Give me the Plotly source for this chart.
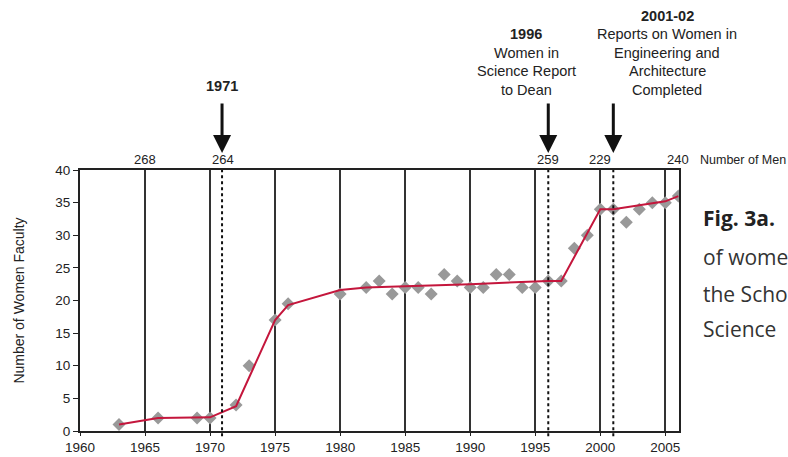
import plotly.graph_objects as go

# ---- data ----
years = [1963, 1966, 1969, 1970, 1972, 1973, 1975, 1976, 1980, 1982, 1983, 1984,
         1985, 1986, 1987, 1988, 1989, 1990, 1991, 1992, 1993, 1994, 1995, 1996,
         1997, 1998, 1999, 2000, 2001, 2002, 2003, 2004, 2005, 2006]
women = [1, 2, 2, 2, 4, 10, 17, 19.5, 21, 22, 23, 21,
         22, 22, 21, 24, 23, 22, 22, 24, 24, 22, 22, 23,
         23, 28, 30, 34, 34, 32, 34, 35, 35, 36]

trend_years = [1963, 1966, 1970, 1972, 1975, 1976, 1980, 1982, 1985, 1990, 1996, 1997, 2000, 2001, 2005, 2006]
trend_vals = [1.0, 2.0, 2.1, 3.8, 17, 19.3, 21.6, 22, 22.2, 22.5, 23, 23, 34, 34, 35.2, 36]

event_years = [1970.92, 1996, 2001]
event_label_years = [1970.92, 1994.3, 2005.15]
event_texts = [
    ["<b>1971</b>"],
    ["<b>1996</b>", "Women in", "Science Report", "to Dean"],
    ["<b>2001-02</b>", "Reports on Women in", "Engineering and", "Architecture", "Completed"],
]

men_years = [1965, 1971, 1996, 2000, 2006]
men_counts = [268, 264, 259, 229, 240]

x_ticks = list(range(1960, 2006, 5))
y_ticks = list(range(0, 41, 5))

side_lines = ["of wome", "the Scho", "Science"]

# ---- figure ----
W, H = 788, 457
PL, PR, PT, PB = 80, 679, 170, 431          # plot area in page pixels
L, R, T, B = PL, W - PR, PT, H - PB
plot_h = PB - PT
plot_w = PR - PL

def py(px_from_top):
    return 1 + (PT - px_from_top) / plot_h

def pxp(px_from_left):
    return (px_from_left - PL) / plot_w

FONT = "Liberation Sans, Arial, sans-serif"

fig = go.Figure()

fig.add_trace(go.Scatter(
    x=years, y=women, mode="markers",
    marker=dict(symbol="diamond", size=10, color="#999999"),
    showlegend=False, hoverinfo="x+y"))

fig.add_trace(go.Scatter(
    x=trend_years, y=trend_vals, mode="lines",
    line=dict(color="#c4163c", width=2),
    showlegend=False))

shapes = []
for ey in event_years:
    shapes.append(dict(type="line", xref="x", yref="paper", x0=ey, x1=ey, y0=-0.02, y1=1,
                       line=dict(color="#111", width=2, dash="dot"), layer="above"))

annotations = []
# arrows
for ey in event_years:
    annotations.append(dict(x=ey, y=py(153), xref="x", yref="paper", text="",
                            showarrow=True, ax=0, ay=-51, arrowhead=2, arrowsize=1.2,
                            arrowwidth=3, arrowcolor="#111", standoff=0))
# event texts (bottom-up)
for k, (ex, lines) in enumerate(zip(event_label_years, event_texts)):
    n = len(lines)
    bottom = 86 if n == 1 else 90
    for i, t in enumerate(lines):
        ypx = bottom - (n - 1 - i) * 18.5
        annotations.append(dict(x=ex, y=py(ypx), xref="x", yref="paper", text=t,
                                showarrow=False, yanchor="middle", xanchor="center",
                                font=dict(family=FONT, size=14.5, color="#222")))
# men counts
for mx, mc in zip(men_years, men_counts):
    annotations.append(dict(x=mx, y=py(160), xref="x", yref="paper", text=str(mc),
                            showarrow=False, yanchor="middle", xanchor="center",
                            font=dict(family=FONT, size=13, color="#222")))
annotations.append(dict(x=pxp(700), y=py(160), xref="paper", yref="paper",
                        text="Number of Men", showarrow=False, xanchor="left", yanchor="middle",
                        xshift=-2, font=dict(family=FONT, size=12.5, color="#222")))
# side caption
annotations.append(dict(x=pxp(703), y=py(218), xref="paper", yref="paper",
                        text="<b>Fig. 3a.</b>", showarrow=False, xanchor="left", yanchor="middle",
                        xshift=-2, font=dict(family="Open Sans", size=21, color="#222")))
for i, t in enumerate(side_lines):
    annotations.append(dict(x=pxp(703), y=py([257, 294, 329][i]), xref="paper", yref="paper",
                            text=t, showarrow=False, xanchor="left", yanchor="middle",
                            xshift=-2, font=dict(family="Open Sans", size=21, color="#333")))

fig.update_layout(
    width=W, height=H,
    margin=dict(l=L, r=R, t=T, b=B, autoexpand=False),
    paper_bgcolor="white", plot_bgcolor="white",
    shapes=shapes, annotations=annotations,
    font=dict(family=FONT, size=13, color="#222"),
    xaxis=dict(range=[1960, 2006.05], tickvals=x_ticks, ticktext=[str(v) for v in x_ticks],
               showgrid=True, gridcolor="#333", gridwidth=1.5,
               showline=True, linecolor="#222", linewidth=2, mirror=True,
               ticks="outside", ticklen=3, tickcolor="#222",
               zeroline=False, tickfont=dict(size=13.5), automargin=False),
    yaxis=dict(range=[0, 40], tickvals=y_ticks, showgrid=False,
               showline=True, linecolor="#222", linewidth=2, mirror=True,
               ticks="outside", ticklen=5, tickcolor="#222", zeroline=False,
               title=dict(text="Number of Women Faculty", font=dict(size=14), standoff=27),
               tickfont=dict(size=13.5), automargin=False),
)

# remove the default 8px page margin so the 788x457 figure fills the window exactly
fig.write_html("out.html",
               config={"displayModeBar": False},
               post_script="document.body.style.margin='0';document.body.style.overflow='hidden';")
